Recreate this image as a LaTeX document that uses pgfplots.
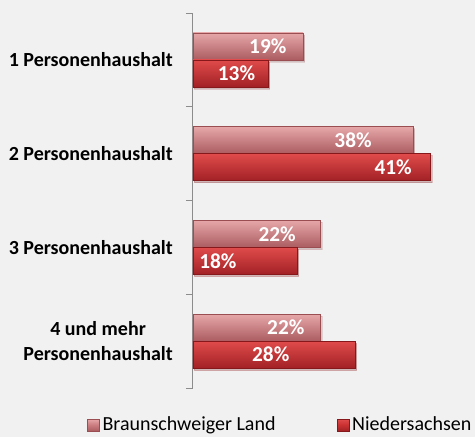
\documentclass[border=0pt]{standalone}
\usepackage{fontspec}
\setmainfont{Carlito}
\usepackage{pgfplots}
\pgfplotsset{compat=1.18}
\usepackage{pgfplotstable}
\usetikzlibrary{shadows}
\definecolor{bg}{HTML}{F1F1F1}
\definecolor{axisgray}{HTML}{8C8C8C}
\definecolor{bsltop}{HTML}{E6A7A9}
\definecolor{bslmid}{HTML}{CB7C7F}
\definecolor{bslbot}{HTML}{AB5C60}
\definecolor{bsledge}{HTML}{9A4E52}
\definecolor{ndstop}{HTML}{E04B4B}
\definecolor{ndsmid}{HTML}{C93031}
\definecolor{ndsbot}{HTML}{A22125}
\definecolor{ndsedge}{HTML}{86181B}
% label positions (centre of the value labels, in data units)
\pgfplotstableread{
lx ly lab
12.9 3.144 19\%
27.6 2.144 38\%
14.5 1.144 22\%
16.0 0.144 22\%
7.5 2.856 13\%
34.5 1.856 41\%
4.3 0.856 18\%
13.4 -0.144 28\%
}\labels
\pgfplotsset{
  bslbar/.style={xbar, bar width=20.25pt, bar shift=10.125pt, draw=bsledge, line width=0.5pt,
    top color=bsltop, middle color=bslmid, bottom color=bslbot, forget plot,
    drop shadow={opacity=0.2, shadow xshift=1pt, shadow yshift=-1.5pt}},
  ndsbar/.style={xbar, bar width=20.25pt, bar shift=-10.125pt, draw=ndsedge, line width=0.5pt,
    top color=ndstop, middle color=ndsmid, bottom color=ndsbot, forget plot,
    drop shadow={opacity=0.2, shadow xshift=1pt, shadow yshift=-1.5pt}},
}
\begin{document}
\begin{tikzpicture}
\fill[bg] (0,0) rectangle (356.25pt,327.75pt);
\useasboundingbox (0,0) rectangle (356.25pt,327.75pt);
\begin{axis}[
  at={(144.75pt,36.75pt)}, anchor=south west,
  scale only axis, width=200.1pt, height=281.25pt,
  xmin=0, xmax=46, ymin=-0.5, ymax=3.5,
  hide x axis,
  axis y line*=left,
  y axis line style={-, draw=axisgray, line width=0.75pt},
  ytick={0,1,2,3},
  yticklabels={{4 und mehr\\Personenhaushalt},3 Personenhaushalt,2 Personenhaushalt,1 Personenhaushalt},
  major tick length=0pt,
  minor ytick={-0.5,0.5,1.5,2.5,3.5},
  minor tick length=5.25pt,
  tick align=outside,
  tick style={draw=axisgray, line width=0.75pt},
  yticklabel style={font=\bfseries\fontsize{15}{18.75}\selectfont, align=center, inner sep=0pt, xshift=-15pt},
  legend columns=2,
  legend style={at={(-0.397,-0.0987)}, anchor=west, draw=none, fill=none, inner sep=0pt,
    font=\fontsize{15}{18}\selectfont, /tikz/every even column/.append style={column sep=44pt}},
  legend cell align=left,
]
% Braunschweiger Land
\addplot[bslbar] coordinates {(19,3)};
\addplot[bslbar] coordinates {(38,2)};
\addplot[bslbar] coordinates {(22,1)};
\addplot[bslbar] coordinates {(22,0)};
% Niedersachsen
\addplot[ndsbar] coordinates {(13,3)};
\addplot[ndsbar] coordinates {(41,2)};
\addplot[ndsbar] coordinates {(18,1)};
\addplot[ndsbar] coordinates {(28,0)};
% value labels
\addplot[only marks, mark=none, forget plot, point meta=explicit symbolic,
  nodes near coords, every node near coord/.append style={anchor=center, text=white, inner sep=0pt,
  font=\bfseries\fontsize{16}{16}\selectfont}]
  table[x=lx, y=ly, meta=lab]{\labels};
\addlegendimage{legend image code/.code={\draw[draw=bsledge, top color=bsltop, bottom color=bslbot, middle color=bslmid] (0pt,-4.5pt) rectangle (9pt,4.5pt);}}
\addlegendentry{Braunschweiger Land}
\addlegendimage{legend image code/.code={\draw[draw=ndsedge, top color=ndstop, bottom color=ndsbot, middle color=ndsmid] (0pt,-4.5pt) rectangle (9pt,4.5pt);}}
\addlegendentry{Niedersachsen}
\end{axis}
\end{tikzpicture}
\end{document}
